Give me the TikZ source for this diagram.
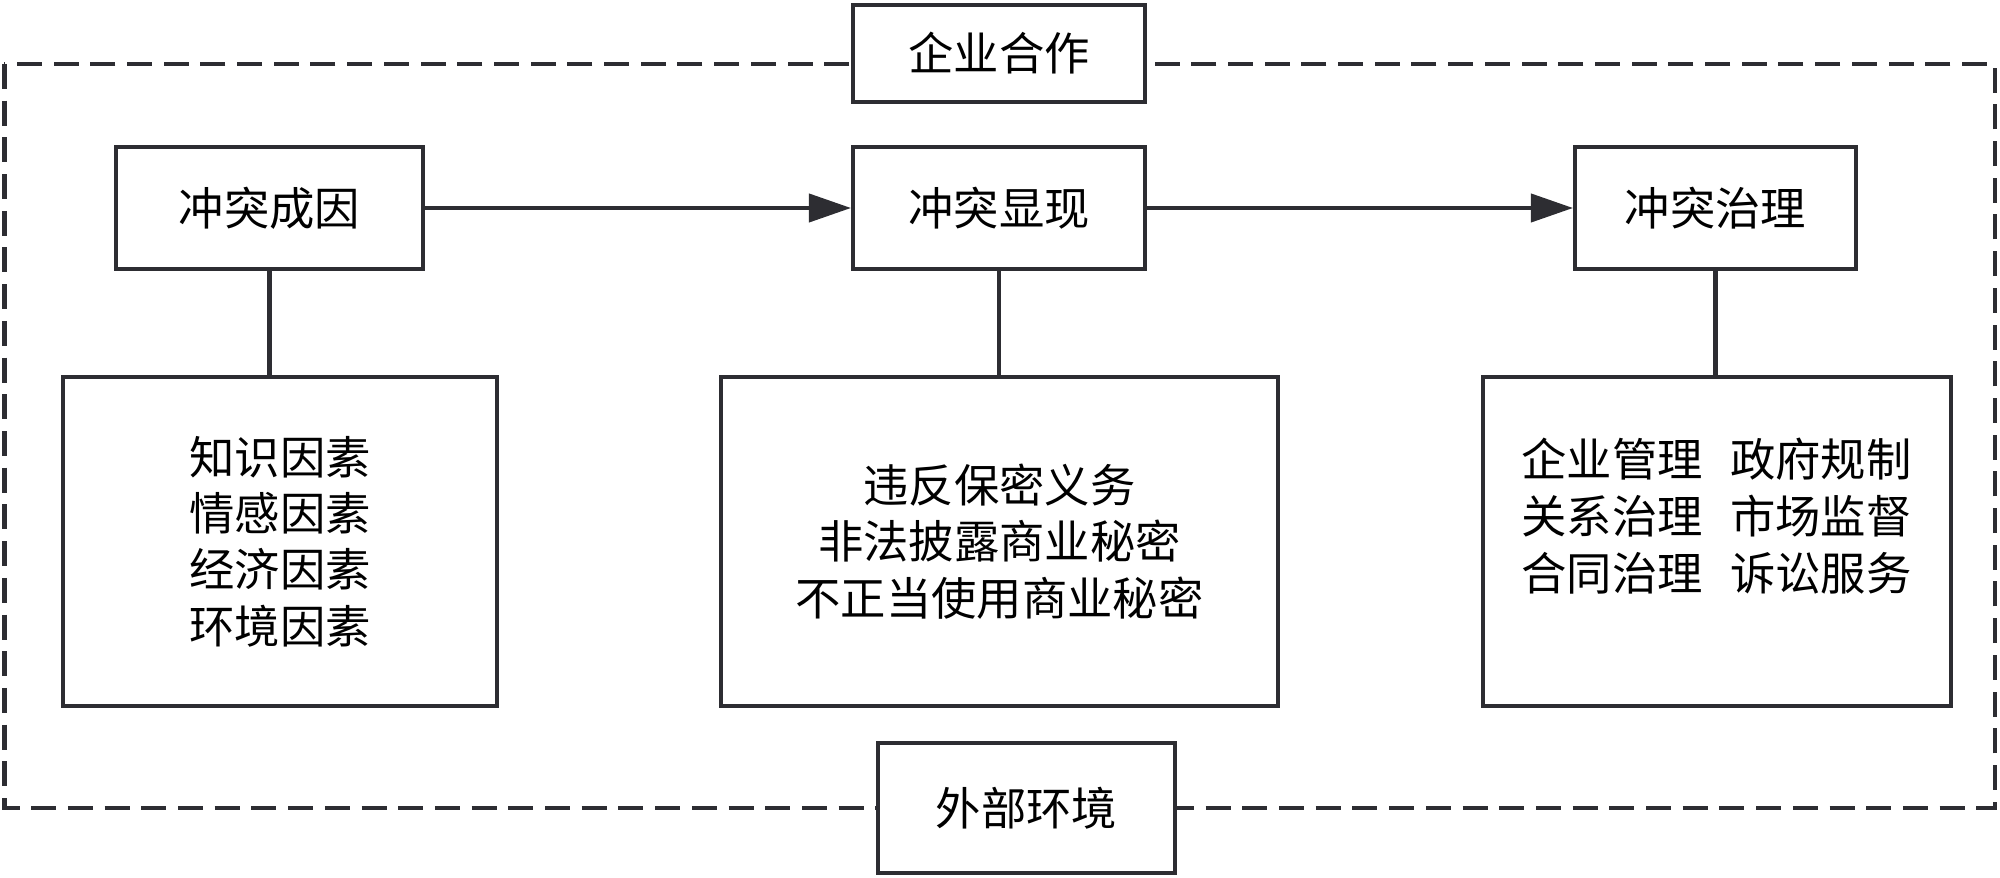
\documentclass[tikz,border=0pt]{standalone}
\usepackage{fontspec}
\newfontfamily\cjk{Noto Sans CJK SC}
\usetikzlibrary{arrows.meta}
\definecolor{lc}{RGB}{45,45,50}
\begin{document}
\begin{tikzpicture}[x=1cm,y=1cm,
  box/.style={draw=lc, line width=1.15pt, fill=white, rectangle, inner sep=0pt,
    font=\cjk\fontsize{12.9pt}{16pt}\selectfont, align=center},
  txt/.style={inner sep=0pt, font=\cjk\fontsize{12.9pt}{16.2pt}\selectfont, align=center},
  conn/.style={draw=lc, line width=1.15pt},
  arr/.style={conn, -{Triangle[length=0.42cm,width=0.28cm]}},
  frame/.style={draw=lc, line width=1.15pt, dash pattern=on 0.25cm off 0.117cm}
]
\useasboundingbox (0,0) rectangle (20,-8.78);
\coordinate (fa) at (0.045,-0.64);
\coordinate (fb) at (19.95,-8.08);
\draw[frame] (fa) rectangle (fb);

\node[box, minimum width=2.92cm, minimum height=0.97cm] (coop) at (9.99,-0.535) {企业合作};
\node[box, minimum width=2.97cm, minimum height=1.30cm] (env) at (10.265,-8.08) {外部环境};

\node[box, minimum width=3.07cm, minimum height=1.22cm] (cause) at (2.695,-2.08) {冲突成因};
\node[box, minimum width=2.92cm, minimum height=1.22cm] (show) at (9.99,-2.08) {冲突显现};
\node[box, minimum width=2.81cm, minimum height=1.22cm] (gov) at (17.155,-2.08) {冲突治理};

\node[box, minimum width=4.34cm, minimum height=3.29cm] (causeD) at (2.80,-5.415)
  {知识因素\\情感因素\\经济因素\\环境因素};
\node[box, minimum width=5.57cm, minimum height=3.29cm] (showD) at (9.995,-5.415)
  {违反保密义务\\非法披露商业秘密\\不正当使用商业秘密};
\node[box, minimum width=4.68cm, minimum height=3.29cm] (govD) at (17.17,-5.415) {};
\node[txt] (govT) at (17.165,-5.16)
  {企业管理\hspace{0.6em}政府规制\\关系治理\hspace{0.6em}市场监督\\合同治理\hspace{0.6em}诉讼服务};

\draw[arr] (cause) -- (show);
\draw[arr] (show) -- (gov);
\draw[conn] (cause.south) -- (cause.south |- causeD.north);
\draw[conn] (show.south) -- (show.south |- showD.north);
\draw[conn] (gov.south) -- (gov.south |- govD.north);
\end{tikzpicture}
\end{document}
